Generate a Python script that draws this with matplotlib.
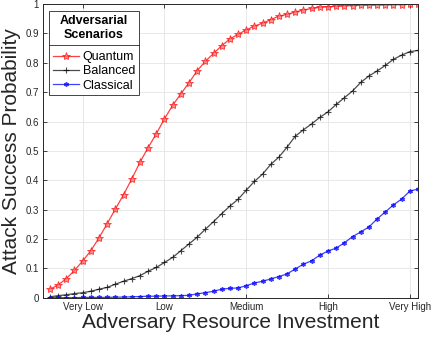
import numpy as np
import matplotlib.pyplot as plt
from matplotlib.lines import Line2D

plt.rcParams["font.family"] = ["Liberation Sans", "DejaVu Sans"]

# 46 evenly spaced investment steps
quantum = [
    0.029, 0.043, 0.065, 0.093, 0.125, 0.160, 0.204, 0.252, 0.302, 0.351,
    0.404, 0.461, 0.511, 0.558, 0.609, 0.655, 0.694, 0.732, 0.773, 0.805,
    0.832, 0.858, 0.881, 0.897, 0.912, 0.925, 0.935, 0.947, 0.959, 0.965,
    0.973, 0.980, 0.985, 0.989, 0.991, 0.992, 0.994, 0.995, 0.996, 0.996,
    0.997, 0.997, 0.998, 0.998, 0.999, 0.999,
]
balanced = [
    0.003, 0.007, 0.010, 0.014, 0.017, 0.022, 0.029, 0.035, 0.046, 0.056,
    0.065, 0.075, 0.090, 0.103, 0.120, 0.137, 0.160, 0.183, 0.206, 0.233,
    0.259, 0.286, 0.312, 0.335, 0.366, 0.396, 0.421, 0.454, 0.479, 0.513,
    0.550, 0.572, 0.592, 0.614, 0.633, 0.658, 0.681, 0.704, 0.733, 0.755,
    0.772, 0.791, 0.812, 0.826, 0.838, 0.842,
]
classical = [
    0.000, 0.000, 0.000, 0.000, 0.001, 0.001, 0.001, 0.001, 0.002, 0.002,
    0.003, 0.004, 0.005, 0.005, 0.006, 0.006, 0.007, 0.008, 0.013, 0.017,
    0.022, 0.029, 0.032, 0.033, 0.041, 0.050, 0.056, 0.064, 0.072, 0.081,
    0.098, 0.114, 0.126, 0.145, 0.159, 0.169, 0.187, 0.208, 0.224, 0.241,
    0.268, 0.292, 0.316, 0.336, 0.363, 0.370,
]
tick_pos = [4, 14, 24, 34, 44]
tick_labels = ["Very Low", "Low", "Medium", "High", "Very High"]

x = np.arange(len(quantum))
txt = "#262626"

fig = plt.figure(figsize=(4.32, 3.40), dpi=100)
ax = fig.add_axes([0.0995, 0.1244, 0.868, 0.8636])

ax.plot(x, quantum, color="red", alpha=0.75, lw=0.9, marker="*", ms=6,
        mfc="#ff7070", mec="red", mew=0.6, label="Quantum")
ax.plot(x, balanced, color="black", alpha=0.7, lw=0.9, marker="+", ms=5,
        mew=0.8, label="Balanced")
ax.plot(x, classical, color="blue", alpha=0.75, lw=0.9, marker=(6, 2, 0),
        ms=3.2, mew=1.0, label="Classical")

ax.set_xlim(-0.85, 45)
ax.set_ylim(0, 1)
ax.set_xticks(tick_pos)
ax.set_xticklabels(tick_labels)
yt = np.round(np.arange(0, 1.01, 0.1), 1)
ax.set_yticks(yt)
ax.set_yticklabels(["0", "0.1", "0.2", "0.3", "0.4", "0.5", "0.6", "0.7",
                    "0.8", "0.9", "1"])
ax.tick_params(direction="in", top=True, right=True, labelsize=7,
               colors=txt, length=3, width=0.6, pad=3)
ax.grid(True, color="#e4e4e4", lw=0.6)
ax.set_axisbelow(True)
for s in ax.spines.values():
    s.set_color(txt)
    s.set_linewidth(0.7)

ax.set_xlabel("Adversary Resource Investment", fontsize=15, color=txt, labelpad=1)
ax.set_ylabel("Attack Success Probability", fontsize=15, color=txt, labelpad=3)

leg = ax.legend(loc="upper left", bbox_to_anchor=(0.016, 0.977),
                title="Adversarial\nScenarios", fontsize=9, fancybox=False,
                edgecolor=txt, framealpha=1, handlelength=2.1,
                handletextpad=0.3, borderpad=0.3, labelspacing=0.18,
                borderaxespad=0, alignment="center")
leg.get_title().set_fontweight("bold")
leg.get_title().set_fontsize(9)
leg.get_title().set_linespacing(1.3)
leg.get_title().set_multialignment("center")
leg.get_frame().set_linewidth(0.6)
leg._legend_box.sep = 7

# separator under the legend title
fig.canvas.draw()
bb = leg.get_window_extent()
tb = leg.get_title().get_window_extent()
ysep = tb.y0 - 3.5
fig.add_artist(Line2D([bb.x0, bb.x1], [ysep, ysep], color=txt, lw=0.6,
                      transform=None, zorder=10))

plt.savefig("out.png", dpi=100)
